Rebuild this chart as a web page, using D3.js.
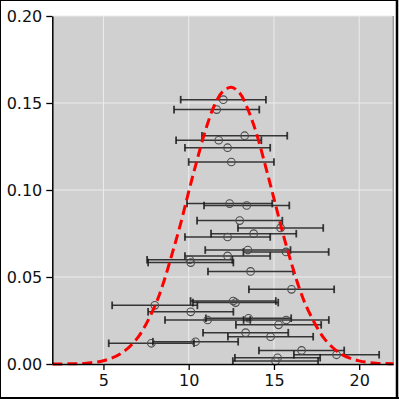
<!DOCTYPE html>
<html>
<head>
<meta charset="utf-8">
<script src="https://cdn.jsdelivr.net/npm/d3@7"></script>
<style>
  body { margin: 0; background: #fff; }
  svg { display: block; }
</style>
</head>
<body>
<div id="chart"></div>
<script>
// measured points (x value, density value) and horizontal error (+/-)
var ptX = [12.03, 11.64, 13.28, 11.76, 12.28, 12.50, 12.40, 13.40, 12.99, 15.39,
           13.81, 12.28, 13.47, 15.71, 12.28, 10.06, 10.12, 13.63, 16.03, 12.61,
           12.75, 8.01, 10.12, 11.11, 13.51, 15.72, 15.27, 13.34, 14.80, 7.81,
           10.40, 16.62, 18.67, 15.21, 15.09];
var ptY = [0.1519, 0.1462, 0.1312, 0.1286, 0.1243, 0.1161, 0.0922, 0.0911, 0.0824, 0.0782,
           0.0749, 0.0730, 0.0655, 0.0644, 0.0621, 0.0599, 0.0583, 0.0532, 0.0429, 0.0362,
           0.0353, 0.0337, 0.0300, 0.0253, 0.0263, 0.0253, 0.0225, 0.0180, 0.0157, 0.0119,
           0.0128, 0.0078, 0.0053, 0.0036, 0.0017];
var ptErr = [2.5, 2.5, 2.5, 2.5, 2.5, 2.5, 2.5, 2.5, 2.5, 2.5,
             2.5, 2.5, 2.5, 2.5, 2.5, 2.5, 2.5, 2.5, 2.5, 2.5,
             2.5, 2.5, 2.5, 2.5, 2.5, 2.5, 2.5, 2.5, 2.5, 2.5,
             2.5, 2.5, 2.5, 2.5, 2.5];

// red dashed fit curve
var curveX = [2, 3, 4, 5, 6, 7, 8, 8.5, 9, 9.5, 10, 10.5, 11, 11.5, 12, 12.5,
              13, 13.5, 14, 14.5, 15, 15.5, 16, 16.5, 17, 18, 19, 20, 21, 22];
var curveY = [0.0000, 0.0001, 0.0005, 0.0019, 0.0059, 0.0150, 0.0330, 0.0461, 0.0624, 0.0797,
              0.0990, 0.1176, 0.1348, 0.1485, 0.1566, 0.1590, 0.1556, 0.1457, 0.1317, 0.1139,
              0.0951, 0.0760, 0.0587, 0.0432, 0.0310, 0.0140, 0.0054, 0.0018, 0.0005, 0.0001];

var xTicks = [5, 10, 15, 20];
var yTicks = [0.00, 0.05, 0.10, 0.15, 0.20];

var W = 399, H = 399;
var plot = { left: 52.3, right: 393.3, top: 16, bottom: 364 };

var svg = d3.select("#chart").append("svg")
    .attr("width", W)
    .attr("height", H);

// outer frame
svg.append("rect")
    .attr("x", 0.5).attr("y", 0.5)
    .attr("width", 396.5).attr("height", 397.5)
    .attr("fill", "none")
    .attr("stroke", "#000")
    .attr("stroke-width", 1);
svg.append("line").attr("x1", 397).attr("x2", 397).attr("y1", 0).attr("y2", 399)
    .attr("stroke", "#000").attr("stroke-width", 2.5);
svg.append("line").attr("x1", 0).attr("x2", 399).attr("y1", 398).attr("y2", 398)
    .attr("stroke", "#000").attr("stroke-width", 2);

var x = d3.scaleLinear().domain([2, 22]).range([plot.left, plot.right]);
var y = d3.scaleLinear().domain([0, 0.2]).range([plot.bottom, plot.top]);

// background
svg.append("rect")
    .attr("x", plot.left).attr("y", plot.top)
    .attr("width", plot.right - plot.left)
    .attr("height", plot.bottom - plot.top)
    .attr("fill", "#d0d0d0");

// grid
var grid = svg.append("g");
grid.selectAll(".gx").data(xTicks).enter().append("line")
    .attr("x1", function(d) { return x(d) }).attr("x2", function(d) { return x(d) })
    .attr("y1", plot.top).attr("y2", plot.bottom)
    .attr("stroke", "#ececec").attr("stroke-width", 1);
grid.selectAll(".gy").data(yTicks).enter().append("line")
    .attr("x1", plot.left).attr("x2", plot.right)
    .attr("y1", function(d) { return y(d) }).attr("y2", function(d) { return y(d) })
    .attr("stroke", "#ececec").attr("stroke-width", 1);

// right spine (light)
svg.append("line")
    .attr("x1", plot.right).attr("x2", plot.right)
    .attr("y1", plot.top).attr("y2", plot.bottom)
    .attr("stroke", "#9a9a9a").attr("stroke-width", 1.5);

var pts = ptX.map(function(d, i) { return { x: d, y: ptY[i], e: ptErr[i] } });

// error bars
var eb = svg.append("g")
    .attr("stroke", "#1a1a1a")
    .attr("stroke-opacity", 0.85);
eb.selectAll(".bar").data(pts).enter().append("line")
    .attr("x1", function(d) { return x(d.x - d.e) })
    .attr("x2", function(d) { return x(d.x + d.e) })
    .attr("y1", function(d) { return y(d.y) })
    .attr("y2", function(d) { return y(d.y) })
    .attr("stroke-width", 1.5);
eb.selectAll(".capl").data(pts).enter().append("line")
    .attr("x1", function(d) { return x(d.x - d.e) })
    .attr("x2", function(d) { return x(d.x - d.e) })
    .attr("y1", function(d) { return y(d.y) - 3.8 })
    .attr("y2", function(d) { return y(d.y) + 3.8 })
    .attr("stroke-width", 1.8);
eb.selectAll(".capr").data(pts).enter().append("line")
    .attr("x1", function(d) { return x(d.x + d.e) })
    .attr("x2", function(d) { return x(d.x + d.e) })
    .attr("y1", function(d) { return y(d.y) - 3.8 })
    .attr("y2", function(d) { return y(d.y) + 3.8 })
    .attr("stroke-width", 1.8);

// open circles
svg.selectAll(".pt").data(pts).enter().append("circle")
    .attr("cx", function(d) { return x(d.x) })
    .attr("cy", function(d) { return y(d.y) })
    .attr("r", 3.8)
    .attr("fill", "none")
    .attr("stroke", "#4a4a4a")
    .attr("stroke-width", 1.1);

// fit curve
var curvePts = curveX.map(function(d, i) { return [d, curveY[i]] });
svg.append("path")
    .datum(curvePts)
    .attr("d", d3.line()
        .x(function(d) { return x(d[0]) })
        .y(function(d) { return y(d[1]) })
        .curve(d3.curveCatmullRom))
    .attr("fill", "none")
    .attr("stroke", "#ff0000")
    .attr("stroke-width", 3)
    .attr("stroke-dasharray", "10,5");

// axes
var xAxis = svg.append("g")
    .attr("transform", "translate(0," + plot.bottom + ")")
    .call(d3.axisBottom(x).tickValues(xTicks).tickSize(6).tickPadding(5).tickSizeOuter(0));
var yAxis = svg.append("g")
    .attr("transform", "translate(" + plot.left + ",0)")
    .call(d3.axisLeft(y).tickValues(yTicks).tickFormat(d3.format(".2f")).tickSize(6).tickPadding(4).tickSizeOuter(0));

[xAxis, yAxis].forEach(function(a) {
    a.select(".domain").attr("stroke", "#000").attr("stroke-width", 1.5);
    a.selectAll(".tick line").attr("stroke", "#000").attr("stroke-width", 1.3);
    a.selectAll(".tick text")
        .attr("fill", "#111")
        .style("font-family", "'DejaVu Sans', sans-serif")
        .style("font-size", "16px");
});
</script>
</body>
</html>
